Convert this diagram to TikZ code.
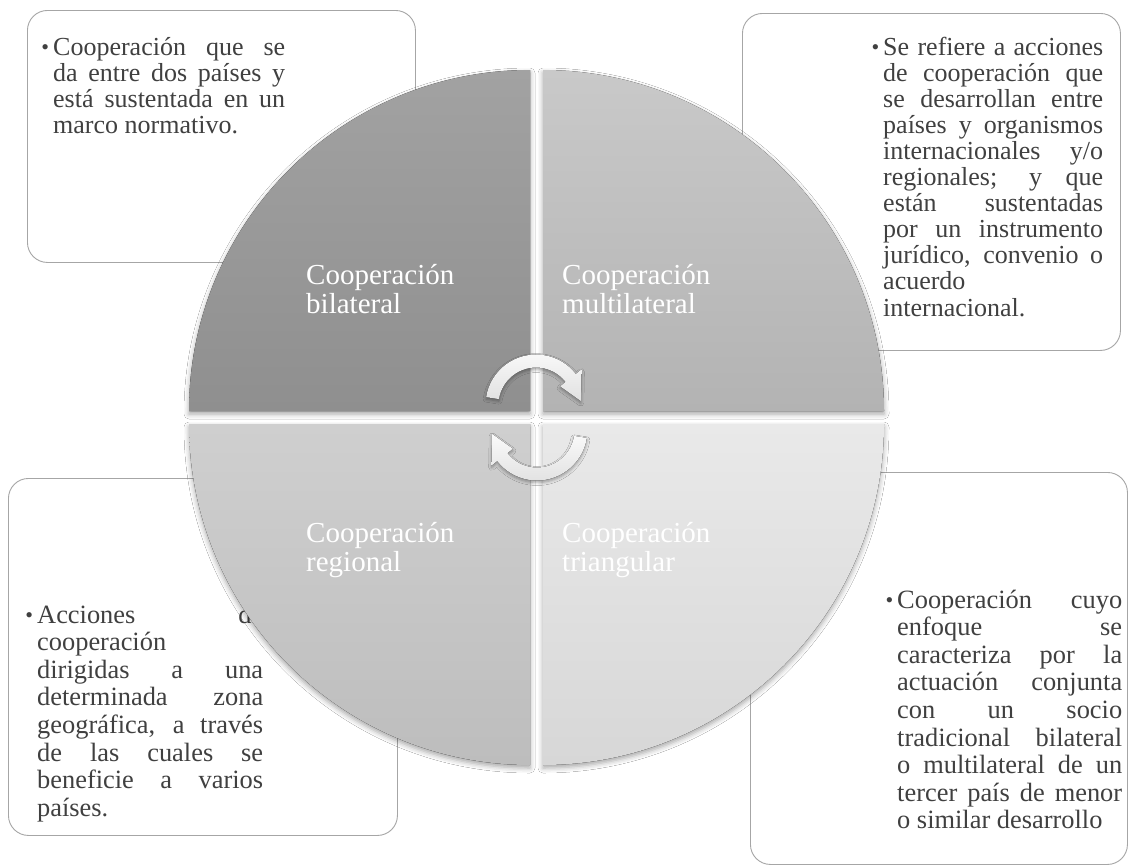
\documentclass[tikz,border=0pt]{standalone}
\usepackage{fontspec}
\setmainfont{Liberation Serif}
\usetikzlibrary{calc,shadows.blur}

% quadrant shades (top / bottom of each gradient)
\definecolor{qTLtop}{HTML}{A2A2A2}\definecolor{qTLbot}{HTML}{8F8F8F}
\definecolor{qTRtop}{HTML}{C9C9C9}\definecolor{qTRbot}{HTML}{B3B3B3}
\definecolor{qBLtop}{HTML}{CFCFCF}\definecolor{qBLbot}{HTML}{BDBDBD}
\definecolor{qBRtop}{HTML}{E9E9E9}\definecolor{qBRbot}{HTML}{D7D7D7}
\definecolor{boxline}{HTML}{A6A6A6}
\definecolor{bodyink}{HTML}{404040}

% justified bullet paragraph, breaks given explicitly
\newcommand\bulletpar[2]{\parbox[t]{#1}{\hyphenpenalty=10000 \exhyphenpenalty=10000
  \tolerance=10000 \hbadness=10000 \parindent=0pt
  \noindent\llap{{\fontsize{22}{22}\selectfont\raisebox{0.5pt}{\textbullet}}\hspace{4pt}}#2}}
\newcommand\qlabel[1]{\parbox[t]{200pt}{\raggedright #1}}

\begin{document}
\begin{tikzpicture}[x=1pt,y=-1pt,
  infobox/.style={draw=boxline, line width=0.9pt, fill=white, rounded corners=20pt,
    anchor=north west, inner sep=0pt},
  bodytext/.style={inner sep=0pt, anchor=base west, text=bodyink},
  topfont/.style={font=\fontsize{26}{26.1}\selectfont},
  lowfont/.style={font=\fontsize{26.4}{27.6}\selectfont},
  qshadow/.style={blur shadow={shadow xshift=0pt, shadow yshift=-3pt,
    shadow blur radius=5pt, shadow opacity=35}},
  quadTL/.style={qshadow, top color=qTLtop, bottom color=qTLbot},
  quadTR/.style={qshadow, top color=qTRtop, bottom color=qTRbot},
  quadBL/.style={qshadow, top color=qBLtop, bottom color=qBLbot},
  quadBR/.style={qshadow, top color=qBRtop, bottom color=qBRbot},
  qtext/.style={inner sep=0pt, anchor=base west, text=white,
    font=\fontsize{29}{29}\selectfont},
  cyclearrow/.style={blur shadow={shadow xshift=0pt, shadow yshift=-2pt,
    shadow blur radius=3pt, shadow opacity=35},
    top color=gray!4, bottom color=gray!24}]

\useasboundingbox (0,0) rectangle (1128,865);
\fill[white] (0,0) rectangle (1128,865);

% description boxes
\node[infobox, minimum width=388pt, minimum height=252pt] (boxBil) at (27,10) {};
\node[infobox, minimum width=378pt, minimum height=337pt] (boxMul) at (742,13) {};
\node[infobox, minimum width=389pt, minimum height=357pt] (boxReg) at (8,478) {};
\begin{scope}
  \clip (0,0) rectangle (1128,865);
  \node[infobox, minimum width=377pt, minimum height=392pt] (boxTri) at (750,472) {};
\end{scope}

\node[bodytext, topfont] (txtBil) at (53,55) {\bulletpar{232pt}{%
Cooperación que se\linebreak
da entre dos países y\linebreak
está sustentada en un\linebreak
marco normativo.}};

\node[bodytext, topfont] (txtMul) at (883,55) {\bulletpar{220pt}{%
Se refiere a acciones\linebreak
de cooperación que\linebreak
se desarrollan entre\linebreak
países y organismos\linebreak
internacionales y/o\linebreak
regionales; y que\linebreak
están sustentadas\linebreak
por un instrumento\linebreak
jurídico, convenio o\linebreak
acuerdo\linebreak
internacional.}};

\node[bodytext, lowfont] (txtReg) at (37,623) {\bulletpar{226pt}{%
Acciones de\linebreak
cooperación\linebreak
dirigidas a una\linebreak
determinada zona\linebreak
geográfica, a través\linebreak
de las cuales se\linebreak
beneficie a varios\linebreak
países.}};

\node[bodytext, lowfont] (txtTri) at (897,608) {\bulletpar{225pt}{%
Cooperación cuyo\linebreak
enfoque se\linebreak
caracteriza por la\linebreak
actuación conjunta\linebreak
con un socio\linebreak
tradicional bilateral\linebreak
o multilateral de un\linebreak
tercer país de menor\linebreak
o similar desarrollo}};

% four quarter discs
\fill[quadTL] (530,411) -- (189,411) arc[start angle=180, end angle=270, radius=341] -- cycle;
\fill[quadTR] (543,411) -- (543,70) arc[start angle=270, end angle=360, radius=341] -- cycle;
\fill[quadBL] (530,424) -- (530,765) arc[start angle=90, end angle=180, radius=341] -- cycle;
\fill[quadBR] (543,424) -- (884,424) arc[start angle=0, end angle=90, radius=341] -- cycle;

\node[qtext] (labBil) at (306,284) {\qlabel{Cooperación\\bilateral}};
\node[qtext] (labMul) at (562,284) {\qlabel{Cooperación\\multilateral}};
\node[qtext] (labReg) at (306,542) {\qlabel{Cooperación\\regional}};
\node[qtext] (labTri) at (562,542) {\qlabel{Cooperación\\triangular}};

% circular arrows in the middle
\coordinate (C1) at (536,405);
\coordinate (C2) at (537,430);
\fill[cyclearrow] ($(C1)+(189:50.5)$) arc[start angle=189, end angle=322, radius=50.5]
  -- ($(C1)+(322:57.5)$) -- ($(C1)+(355:45)$) -- ($(C1)+(322:30.5)$)
  -- ($(C1)+(322:37.5)$) arc[start angle=322, end angle=189, radius=37.5] -- cycle;
\fill[cyclearrow] ($(C2)+(9:50.5)$) arc[start angle=9, end angle=142, radius=50.5]
  -- ($(C2)+(142:57.5)$) -- ($(C2)+(175:45)$) -- ($(C2)+(142:30.5)$)
  -- ($(C2)+(142:37.5)$) arc[start angle=142, end angle=9, radius=37.5] -- cycle;
\end{tikzpicture}
\end{document}
